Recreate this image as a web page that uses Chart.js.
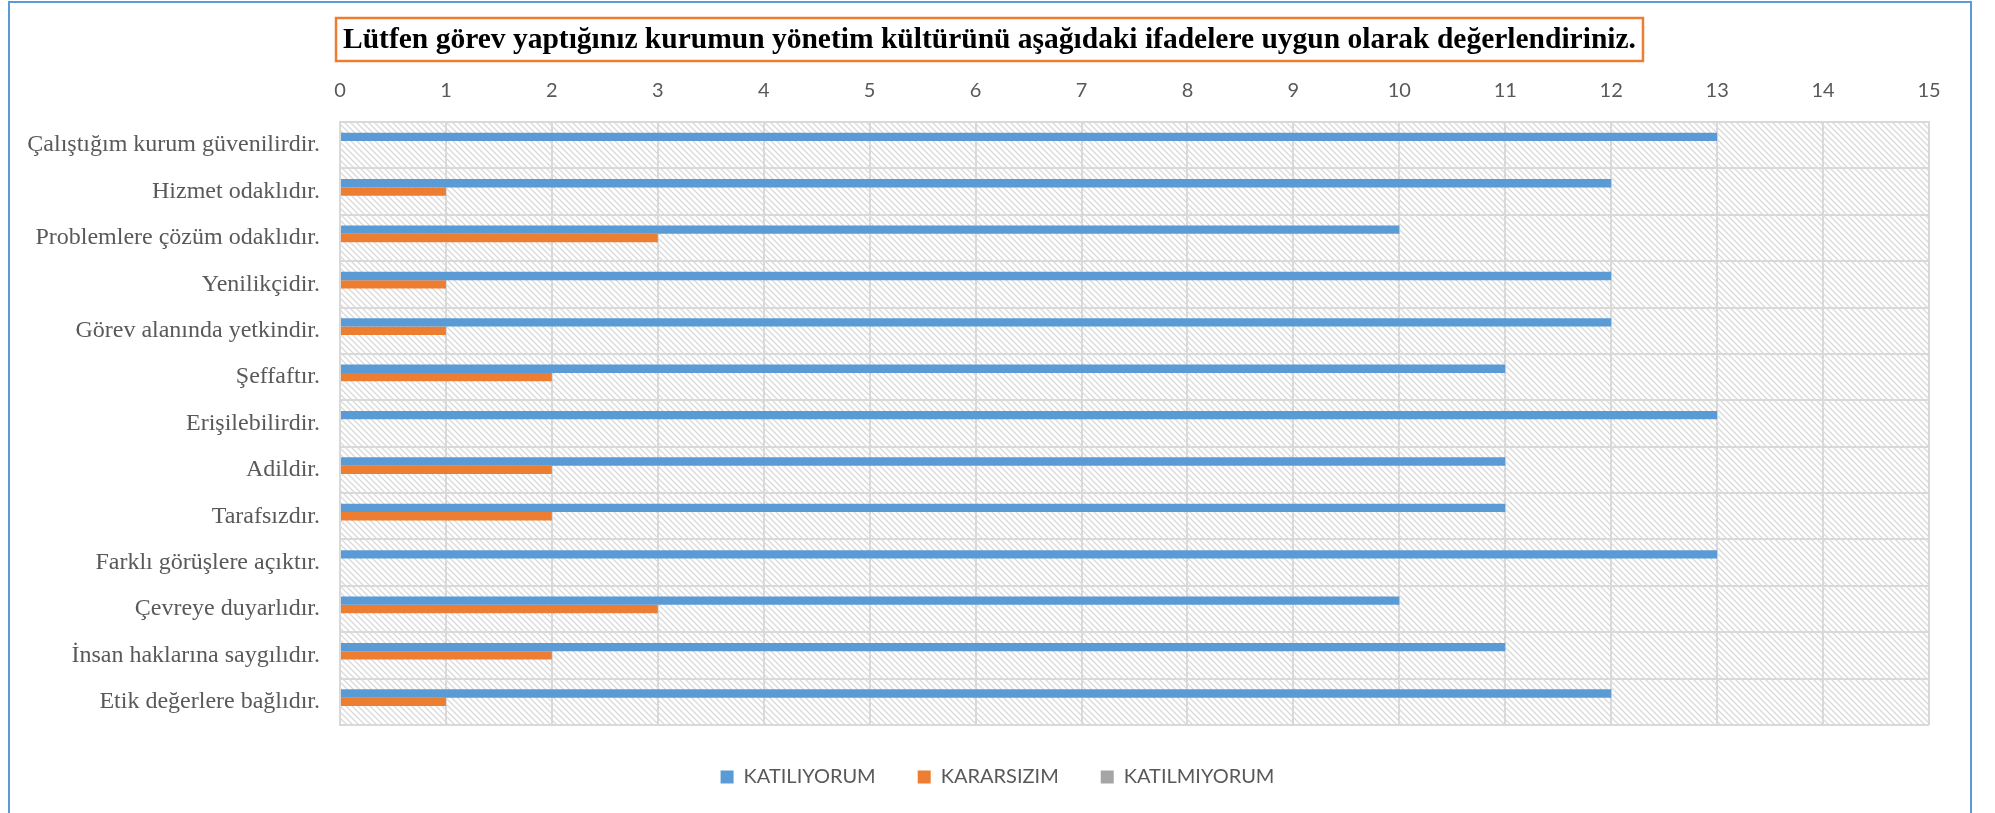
<!DOCTYPE html>
<html>
<head>
<meta charset="utf-8">
<script src="https://cdn.jsdelivr.net/npm/chart.js@4/dist/chart.umd.min.js"></script>
<style>
  body { margin: 0; background: #fff; }
  canvas { display: block; }
</style>
</head>
<body>
<canvas id="myChart" width="1995" height="813"></canvas>
<script>
// chart data
const chartTitle =
  "Lütfen görev yaptığınız kurumun yönetim kültürünü aşağıdaki ifadelere uygun olarak değerlendiriniz.";
const categories = [
  "Çalıştığım kurum güvenilirdir.",
  "Hizmet odaklıdır.",
  "Problemlere çözüm odaklıdır.",
  "Yenilikçidir.",
  "Görev alanında yetkindir.",
  "Şeffaftır.",
  "Erişilebilirdir.",
  "Adildir.",
  "Tarafsızdır.",
  "Farklı görüşlere açıktır.",
  "Çevreye duyarlıdır.",
  "İnsan haklarına saygılıdır.",
  "Etik değerlere bağlıdır.",
];
const seriesNames = ["KATILIYORUM", "KARARSIZIM", "KATILMIYORUM"];
const katiliyorum = [13, 12, 10, 12, 12, 11, 13, 11, 11, 13, 10, 11, 12];
const kararsizim = [0, 1, 3, 1, 1, 2, 0, 2, 2, 0, 3, 2, 1];
const katilmiyorum = [0, 0, 0, 0, 0, 0, 0, 0, 0, 0, 0, 0, 0];
const xTicks = [0, 15]; // min / max of the value axis

const colors = ["#5b9bd5", "#ed7d31", "#a5a5a5"];

// hatched pattern for the plot area
const makeHatch = () => {
  const c = document.createElement("canvas");
  c.width = 6;
  c.height = 6;
  const g = c.getContext("2d");
  g.strokeStyle = "#d9d9d9";
  g.lineWidth = 1.3;
  g.beginPath();
  g.moveTo(-1, -1);
  g.lineTo(7, 7);
  g.moveTo(-1, 5);
  g.lineTo(1, 7);
  g.moveTo(5, -1);
  g.lineTo(7, 1);
  g.stroke();
  return g.createPattern(c, "repeat");
};

const decorPlugin = {
  id: "decor",
  beforeDraw: (chart) => {
    const { ctx, chartArea } = chart;
    ctx.save();
    ctx.fillStyle = makeHatch();
    ctx.fillRect(
      chartArea.left,
      chartArea.top,
      chartArea.right - chartArea.left,
      chartArea.bottom - chartArea.top
    );
    ctx.restore();
  },
  afterDraw: (chart) => {
    const { ctx } = chart;
    ctx.save();
    // outer frame
    ctx.strokeStyle = "#5b9bd5";
    ctx.lineWidth = 2;
    ctx.strokeRect(9, 2, 1962, 900);
    // title with orange box
    ctx.font = "bold 29.5px 'Liberation Serif', 'Times New Roman', serif";
    ctx.textAlign = "center";
    ctx.textBaseline = "middle";
    ctx.fillStyle = "#000";
    const cx = 989.5;
    const cy = 40;
    ctx.fillText(chartTitle, cx, cy);
    const w = ctx.measureText(chartTitle).width + 14;
    ctx.strokeStyle = "#ed7d31";
    ctx.lineWidth = 2.5;
    ctx.strokeRect(cx - w / 2, 18, w, 43);
    ctx.restore();
  },
};

const ctx = document.getElementById("myChart").getContext("2d");
const data = {
  labels: categories,
  datasets: [
    { label: seriesNames[0], data: katiliyorum, backgroundColor: colors[0] },
    { label: seriesNames[1], data: kararsizim, backgroundColor: colors[1] },
    { label: seriesNames[2], data: katilmiyorum, backgroundColor: colors[2] },
  ],
};

const config = {
  type: "bar",
  data: data,
  options: {
    indexAxis: "y",
    responsive: false,
    animation: false,
    categoryPercentage: 0.54,
    barPercentage: 1,
    layout: { padding: { top: 70, left: 10, right: 10, bottom: 16 } },
    scales: {
      x: {
        position: "top",
        min: xTicks[0],
        max: xTicks[1],
        ticks: {
          stepSize: 1,
          padding: 19,
          color: "#595959",
          font: { family: "Lato, 'Open Sans', sans-serif", size: 20 },
        },
        grid: { color: "#d9d9d9", lineWidth: 2, drawTicks: false },
        border: { color: "#d9d9d9", width: 2 },
        afterFit: (scale) => {
          scale.height = 52;
        },
      },
      y: {
        ticks: {
          padding: 20,
          color: "#595959",
          font: { family: "'Liberation Serif', 'Times New Roman', serif", size: 24 },
        },
        grid: { color: "#d9d9d9", lineWidth: 2, drawTicks: false },
        border: { color: "#d9d9d9", width: 2 },
        afterFit: (scale) => {
          scale.width = 330;
        },
      },
      // empty right axis, only keeps the space on the right
      yRight: {
        type: "linear",
        position: "right",
        ticks: { display: false },
        grid: { display: false },
        border: { display: false },
        afterFit: (scale) => {
          scale.width = 56;
        },
      },
    },
    plugins: {
      title: { display: false },
      tooltip: { enabled: false },
      legend: {
        position: "bottom",
        labels: {
          boxWidth: 13,
          boxHeight: 13,
          padding: 42,
          color: "#595959",
          font: { family: "Lato, 'Open Sans', sans-serif", size: 20 },
        },
      },
    },
  },
  plugins: [decorPlugin],
};

const myChart = new Chart(ctx, config);
</script>
</body>
</html>
